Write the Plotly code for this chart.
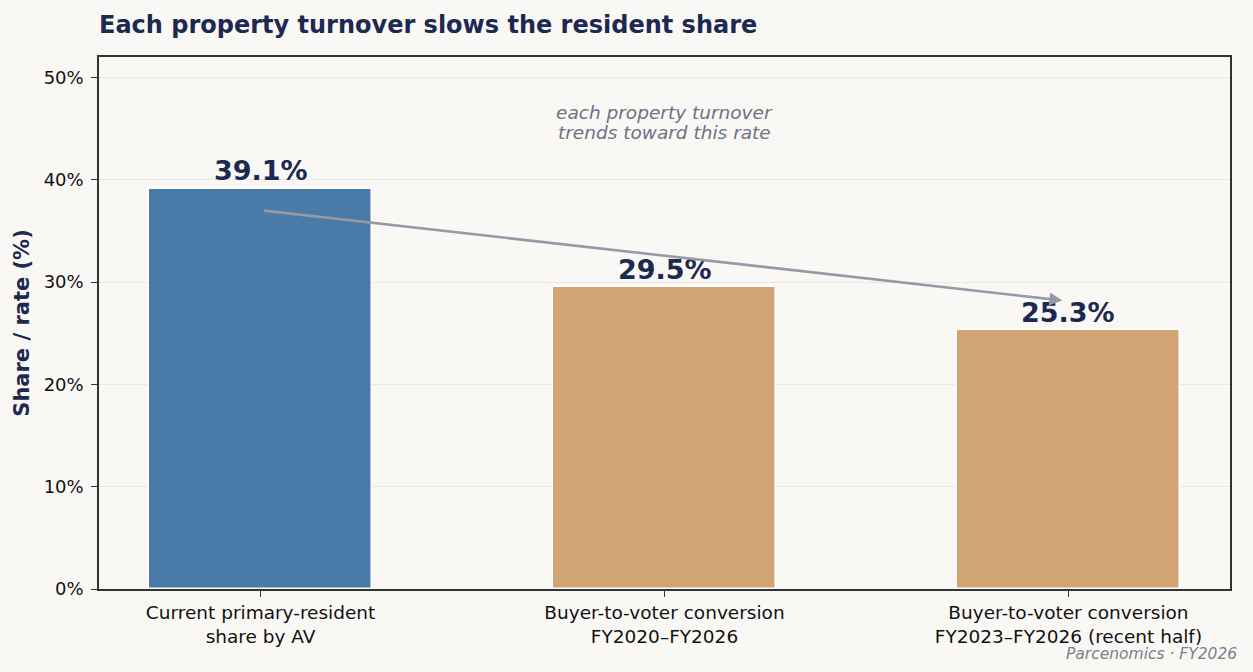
import plotly.graph_objects as go

categories = ["Current primary-resident<br>share by AV",
              "Buyer-to-voter conversion<br>FY2020–FY2026",
              "Buyer-to-voter conversion<br>FY2023–FY2026 (recent half)"]
values = [39.1, 29.5, 25.3]
labels = ["39.1%", "29.5%", "25.3%"]
colors = ["#4a7aa7", "#d2a474", "#d2a474"]
xpos = [0, 1, 2]
yticks = [0, 10, 20, 30, 40, 50]

navy = "#1c2951"
bg = "#faf8f5"
PX0, PX1, PY0, PY1 = 99, 1230, 57, 589

fig = go.Figure()
fig.add_trace(go.Bar(
    x=xpos, y=values, width=0.55,
    marker=dict(color=colors, line=dict(color="white", width=1.5)),
    hoverinfo="skip", showlegend=False,
))

for xv, yv, lab in zip(xpos, values, labels):
    fig.add_annotation(
        x=xv, y=yv, xref="x", yref="y", text=f"<b>{lab}</b>",
        showarrow=False, yanchor="middle", yshift=18,
        font=dict(family="DejaVu Sans", size=27, color=navy),
    )

# trend arrow from first bar to last bar
fig.add_annotation(
    x=1.985, y=28.2, ax=0.005, ay=37.0,
    xref="x", yref="y", axref="x", ayref="y",
    text="", showarrow=True, arrowhead=2, arrowsize=1.0,
    arrowwidth=2.6, arrowcolor="#959aa6",
)
for line, ypix in [("each property turnover", 112), ("trends toward this rate", 132)]:
    fig.add_annotation(
        x=1, y=(PY1 - ypix) / (PY1 - PY0), xref="x", yref="paper",
        text=line, showarrow=False, yanchor="middle",
        font=dict(family="DejaVu Sans", size=18.5, color="#6b7283", style="italic"),
    )
fig.add_annotation(
    x=(1239 - PX0) / (PX1 - PX0), y=-(654 - PY1) / (PY1 - PY0),
    xref="paper", yref="paper", xanchor="right", yanchor="middle",
    text="Parcenomics · FY2026", showarrow=False,
    font=dict(family="DejaVu Sans", size=15.5, color="#7a7f8c", style="italic"),
)

fig.update_layout(
    width=1253, height=672,
    margin=dict(l=PX0, r=1253 - PX1, t=PY0, b=672 - PY1),
    paper_bgcolor=bg, plot_bgcolor=bg,
    title=dict(
        text="<b>Each property turnover slows the resident share</b>",
        x=PX0 / 1253, xanchor="left", xref="container",
        y=1 - 25 / 672, yanchor="middle", yref="container",
        font=dict(family="DejaVu Sans", size=24, color=navy),
    ),
    bargap=0,
)
fig.update_xaxes(
    range=[-0.4, 2.4], tickmode="array", tickvals=xpos, ticktext=categories,
    showline=True, linecolor="#333333", linewidth=1.5, mirror=True,
    ticks="outside", ticklen=6, tickcolor="#333333",
    showgrid=False, zeroline=False,
    tickfont=dict(family="DejaVu Sans", size=18.5, color="#111111"),
)
fig.update_yaxes(
    range=[0, 52], tickmode="array", tickvals=yticks,
    ticktext=[f"{v}%" for v in yticks],
    showline=True, linecolor="#333333", linewidth=1.5, mirror=True,
    ticks="outside", ticklen=6, tickcolor="#333333", ticklabelstandoff=4,
    showgrid=True, gridcolor="#ebe7e3", gridwidth=1.3, zeroline=False,
    tickfont=dict(family="DejaVu Sans", size=18, color="#111111"),
    title=dict(text="<b>Share / rate (%)</b>", standoff=8,
               font=dict(family="DejaVu Sans", size=21, color=navy)),
)
fig.write_html("out.html")
